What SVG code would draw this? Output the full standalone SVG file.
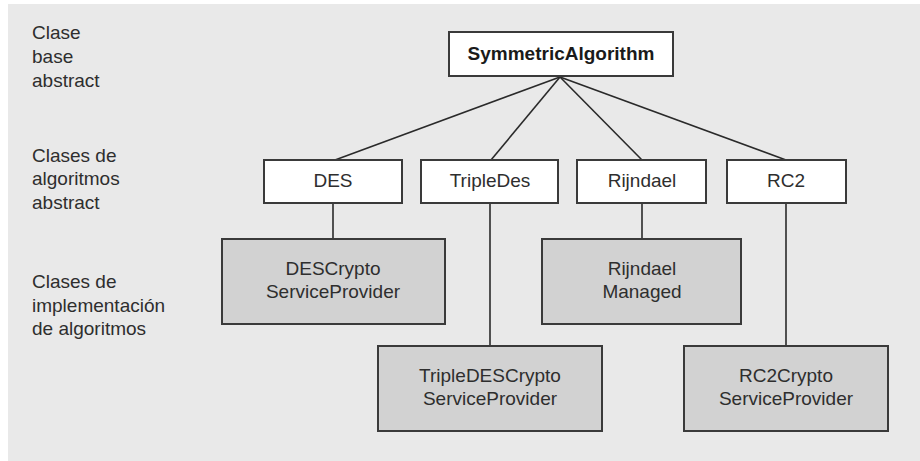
<svg xmlns="http://www.w3.org/2000/svg" width="920" height="461" viewBox="0 0 920 461">
<style>
text{font-family:"Liberation Sans",Arial,sans-serif;font-size:19px;fill:#2e2e2e}
.lbl{text-anchor:start}
.c{text-anchor:middle}
.b{font-weight:bold;fill:#1a1a1a}
.abs{fill:#ffffff;stroke:#3a3a3a;stroke-width:2}
.impl{fill:#d2d2d2;stroke:#3a3a3a;stroke-width:2}
.con line{stroke:#2a2a2a;stroke-width:1.6}
</style>
<rect x="0" y="0" width="920" height="461" fill="#ffffff"/>
<rect x="8" y="4" width="912" height="457" fill="#e9e9e9"/>
<g id="labels">
<text class="lbl" x="32" y="39">Clase</text>
<text class="lbl" x="32" y="63">base</text>
<text class="lbl" x="32" y="87">abstract</text>
<text class="lbl" x="32" y="162">Clases de</text>
<text class="lbl" x="32" y="185">algoritmos</text>
<text class="lbl" x="32" y="209">abstract</text>
<text class="lbl" x="32" y="288">Clases de</text>
<text class="lbl" x="32" y="312">implementación</text>
<text class="lbl" x="32" y="335">de algoritmos</text>
</g>
<g class="con" id="connectors">
<line x1="560" y1="77" x2="335" y2="160"/>
<line x1="560" y1="77" x2="491" y2="160"/>
<line x1="560" y1="77" x2="642" y2="160"/>
<line x1="560" y1="77" x2="786" y2="160"/>
<line x1="333" y1="203" x2="333" y2="239"/>
<line x1="490" y1="203" x2="490" y2="346"/>
<line x1="642" y1="203" x2="642" y2="239"/>
<line x1="786" y1="203" x2="786" y2="346"/>
</g>
<g id="SymmetricAlgorithm">
<rect class="abs" x="449" y="32" width="224" height="44"/>
<text class="c b" x="561" y="60">SymmetricAlgorithm</text>
</g>
<g id="DES">
<rect class="abs" x="264" y="160" width="138" height="43"/>
<text class="c" x="333" y="187">DES</text>
</g>
<g id="TripleDes">
<rect class="abs" x="421" y="160" width="137" height="43"/>
<text class="c" x="490" y="187">TripleDes</text>
</g>
<g id="Rijndael">
<rect class="abs" x="577" y="160" width="129" height="43"/>
<text class="c" x="642" y="187">Rijndael</text>
</g>
<g id="RC2">
<rect class="abs" x="727" y="160" width="119" height="43"/>
<text class="c" x="786" y="187">RC2</text>
</g>
<g id="DESCryptoServiceProvider">
<rect class="impl" x="222" y="239" width="223" height="85"/>
<text class="c" x="333" y="275">DESCrypto</text>
<text class="c" x="333" y="298">ServiceProvider</text>
</g>
<g id="RijndaelManaged">
<rect class="impl" x="542" y="239" width="199" height="85"/>
<text class="c" x="642" y="275">Rijndael</text>
<text class="c" x="642" y="298">Managed</text>
</g>
<g id="TripleDESCryptoServiceProvider">
<rect class="impl" x="378" y="346" width="224" height="85"/>
<text class="c" x="490" y="382">TripleDESCrypto</text>
<text class="c" x="490" y="405">ServiceProvider</text>
</g>
<g id="RC2CryptoServiceProvider">
<rect class="impl" x="684" y="346" width="204" height="85"/>
<text class="c" x="786" y="382">RC2Crypto</text>
<text class="c" x="786" y="405">ServiceProvider</text>
</g>
</svg>
